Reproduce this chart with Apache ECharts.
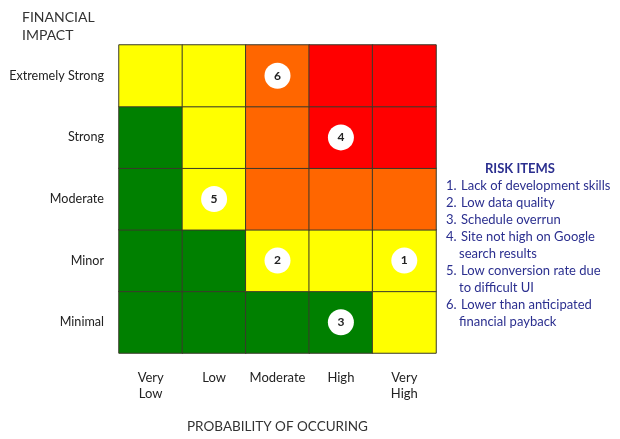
<!DOCTYPE html>
<html>
<head>
<meta charset="utf-8">
<script src="https://cdn.jsdelivr.net/npm/echarts@6/dist/echarts.min.js"></script>
<style>html,body{margin:0;padding:0;background:#fff;}#c{width:620px;height:439px;}</style>
</head>
<body>
<div id="c"></div>
<script>
const probability = ['Very\nLow', 'Low', 'Moderate', 'High', 'Very\nHigh'];
const impact = ['Minimal', 'Minor', 'Moderate', 'Strong', 'Extremely Strong'];
// risk level per cell, rows from Minimal (bottom) to Extremely Strong (top); 0=green 1=yellow 2=orange 3=red
const levels = [
  [0, 0, 0, 0, 1],
  [0, 0, 1, 1, 1],
  [0, 1, 2, 2, 2],
  [0, 1, 2, 3, 3],
  [1, 1, 2, 3, 3]
];
// risk items: [probability index, impact index, number]
const risks = [
  [4, 1, 1],
  [2, 1, 2],
  [3, 0, 3],
  [3, 3, 4],
  [1, 2, 5],
  [2, 4, 6]
];
const riskItems = [
  ['1.', 'Lack of development skills'],
  ['2.', 'Low data quality'],
  ['3.', 'Schedule overrun'],
  ['4.', 'Site not high on Google', 'search results'],
  ['5.', 'Low conversion rate due', 'to difficult UI'],
  ['6.', 'Lower than anticipated', 'financial payback']
];
const levelColors = ['#008000', '#FFFF00', '#FF6600', '#FF0000'];

const cells = [];
levels.forEach((row, yi) => row.forEach((v, xi) => cells.push([xi, yi, v])));

const FONT = 'Lato';
const legendEls = [];
legendEls.push({type: 'text', left: 485, top: 162, style: {text: 'RISK ITEMS', font: 'bold 13px ' + FONT, fill: '#2B2F8F'}});
let ly = 179;
riskItems.forEach(it => {
  legendEls.push({type: 'text', left: 446, top: ly, style: {text: it[0], font: '13px ' + FONT, fill: '#2B2F8F'}});
  for (let k = 1; k < it.length; k++) {
    legendEls.push({type: 'text', left: k === 1 ? 461 : 459, top: ly, style: {text: it[k], font: '13px ' + FONT, fill: '#2B2F8F'}});
    ly += 17;
  }
});

const chart = echarts.init(document.getElementById('c'), null, {renderer: 'canvas'});
chart.setOption({
  animation: false,
  backgroundColor: '#fff',
  textStyle: {fontFamily: FONT},
  title: {
    text: 'FINANCIAL\nIMPACT', left: 17, top: 3,
    textStyle: {fontFamily: FONT, fontSize: 14, fontWeight: 'normal', color: '#333', lineHeight: 18}
  },
  grid: {left: 119, right: 184, top: 45, bottom: 78},
  xAxis: {
    type: 'category', data: probability,
    axisLine: {show: false}, axisTick: {show: false}, splitLine: {show: false},
    axisLabel: {interval: 0, fontSize: 13, color: '#222', lineHeight: 16, margin: 17, fontFamily: FONT},
    name: 'PROBABILITY OF OCCURING', nameLocation: 'middle', nameGap: 67,
    nameTextStyle: {fontSize: 13.5, color: '#333', fontFamily: FONT}
  },
  yAxis: {
    type: 'category', data: impact,
    axisLine: {show: false}, axisTick: {show: false}, splitLine: {show: false},
    axisLabel: {interval: 0, fontSize: 12.6, color: '#222', margin: 15, fontFamily: FONT}
  },
  visualMap: {
    show: false, type: 'piecewise', seriesIndex: 0, dimension: 2,
    pieces: levelColors.map((c, i) => ({value: i, color: c}))
  },
  series: [
    {
      type: 'heatmap', data: cells,
      itemStyle: {borderColor: '#3a3a2a', borderWidth: 1},
      emphasis: {disabled: true}
    },
    {
      type: 'scatter', data: risks, symbol: 'circle', symbolSize: 26,
      itemStyle: {color: '#fff', opacity: 1},
      label: {show: true, position: 'inside', formatter: p => p.value[2], fontSize: 12, fontWeight: 'bold', color: '#222', fontFamily: FONT},
      emphasis: {disabled: true},
      z: 5
    }
  ],
  graphic: legendEls
});
</script>
</body>
</html>
